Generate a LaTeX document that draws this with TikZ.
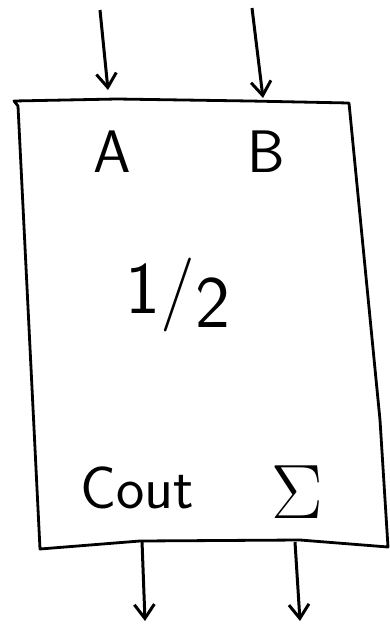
\documentclass[tikz,border=0pt]{standalone}
\usepackage{tikz}
\usetikzlibrary{arrows.meta,positioning,calc}

\begin{document}
\begin{tikzpicture}[x=1pt,y=-1pt,
  wire/.style={line width=3pt, -{Straight Barb[length=14pt,width=20pt,line width=3pt]}},
  edge/.style={line width=2.8pt, line join=round},
  lbl/.style={font=\sffamily\fontsize{60}{60}\selectfont, inner sep=0pt}]
  \useasboundingbox (0,0) rectangle (389,624);
  % box corners
  \coordinate (tl) at (14,101);
  \coordinate (tr) at (349,103);
  \coordinate (br) at (388,547);
  \coordinate (bl) at (40,549);
  \draw[edge] (tl) -- (117,99) -- (250,101) -- (tr) -- (380,420) -- (br)
    -- (300,540) -- (140,541) -- (bl) -- (18,106) -- cycle;
  % inputs
  \coordinate (inA) at (100,10);
  \coordinate (inB) at (252,8);
  \coordinate (topA) at (108,90);
  \coordinate (topB) at (263,98);
  \draw[wire] (inA) -- (topA);
  \draw[wire] (inB) -- (topB);
  % outputs
  \coordinate (botC) at (142,541);
  \coordinate (botS) at (295,542);
  \coordinate (outC) at (145,621);
  \coordinate (outS) at (300,621);
  \draw[wire] (botC) -- (outC);
  \draw[wire] (botS) -- (outS);
  % labels
  \node[lbl] (a) at (112,152) {A};
  \node[lbl] (b) at (266,152) {B};
  \node[lbl, font=\sffamily\fontsize{74}{74}\selectfont] (half) at (178,295) {1/\raisebox{-0.45ex}{2}};
  \node[lbl] (cout) at (137,488) {Cout};
  \node[lbl] (sum) at (297,492) {\scalebox{3.1}{$\Sigma$}};
\end{tikzpicture}
\end{document}
